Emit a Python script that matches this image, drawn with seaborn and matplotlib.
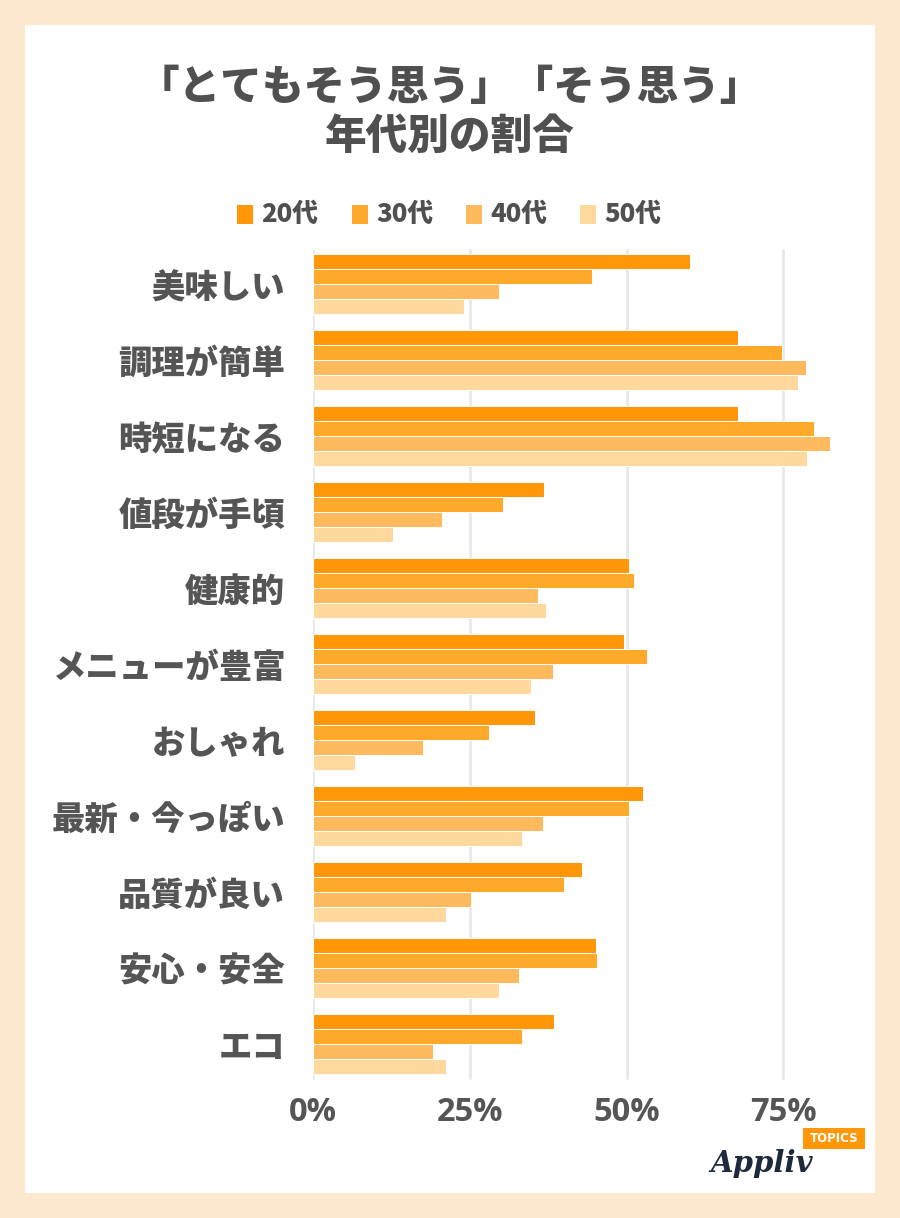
import numpy as np
import pandas as pd
import matplotlib
matplotlib.use("Agg")
import matplotlib.pyplot as plt
from matplotlib.patches import Rectangle
import seaborn as sns

categories = ["美味しい", "調理が簡単", "時短になる", "値段が手頃", "健康的", "メニューが豊富",
              "おしゃれ", "最新・今っぽい", "品質が良い", "安心・安全", "エコ"]
ages = ["20代", "30代", "40代", "50代"]
v20 = [60.1, 67.7, 67.7, 36.8, 50.4, 49.6, 35.4, 52.6, 42.9, 45.1, 38.4]
v30 = [44.4, 74.8, 79.9, 30.3, 51.1, 53.3, 28.1, 50.3, 40.0, 45.2, 33.3]
v40 = [29.7, 78.6, 82.5, 20.6, 35.9, 38.2, 17.6, 36.6, 25.2, 32.8, 19.1]
v50 = [24.1, 77.3, 78.7, 12.8, 37.1, 34.8, 6.7, 33.3, 21.2, 29.6, 21.2]
colors = ["#FF9708", "#FFA92B", "#FFBA5D", "#FFD89E"]
xticks = [0, 25, 50, 75]
xticklabels = ["0%", "25%", "50%", "75%"]

rows = []
for age, vals in zip(ages, [v20, v30, v40, v50]):
    for c, v in zip(categories, vals):
        rows.append({"category": c, "age": age, "value": v})
df = pd.DataFrame(rows)

sns.set_theme(style="white")
plt.rcParams['font.family'] = ['Noto Sans CJK JP', 'DejaVu Sans']

W, H = 900, 1218
fig = plt.figure(figsize=(W / 100, H / 100), dpi=100)
fig.patch.set_facecolor("#FDE9CF")
fig.patches.append(Rectangle((25 / W, 1 - 1193 / H), 850 / W, 1168 / H,
                             transform=fig.transFigure, facecolor="white",
                             edgecolor="none", zorder=-5))

ax = fig.add_axes([313 / W, 1 - 1082 / H, 552 / W, 836 / H])
ax.set_zorder(2)
ax.set_facecolor("none")
sns.barplot(data=df, y="category", x="value", hue="age", order=categories,
            hue_order=ages, palette=colors, orient="h", width=0.8,
            edgecolor="white", linewidth=0.7, saturation=1, ax=ax, legend=False, zorder=3)

ax.set_xlim(0, 88)
ax.set_ylim(10.5, -0.5)
ax.set_xticks(xticks)
ax.set_xticklabels(xticklabels)
for x in xticks:
    ax.axvline(x, color="#E8E8E8", lw=2, zorder=1, ymin=0.005, ymax=0.995)
for s in ax.spines.values():
    s.set_visible(False)
ax.set_xlabel("")
ax.set_ylabel("")
ax.tick_params(axis="x", length=0, pad=10, labelsize=23.5, labelcolor="#555555")
ax.tick_params(axis="y", length=0, pad=20, labelsize=24, labelcolor="#555555")
for lab in ax.get_xticklabels():
    lab.set_fontweight("bold")
    lab.set_family(["Open Sans", "DejaVu Sans"])
for lab in ax.get_yticklabels():
    lab.set_fontweight("heavy")

# Title
fig.text(0.5, 1 - 88 / H, "「とてもそう思う」「そう思う」", ha="center", va="center",
         fontsize=30, fontweight="heavy", color="#505050")
fig.text(0.5, 1 - 137 / H, "年代別の割合", ha="center", va="center",
         fontsize=30, fontweight="heavy", color="#505050")

# Legend
leg_x = [237, 352, 466, 580]
for x, age, col in zip(leg_x, ages, colors):
    fig.patches.append(Rectangle((x / W, 1 - 224 / H), 16 / W, 19 / H,
                                 transform=fig.transFigure, facecolor=col,
                                 edgecolor="none", zorder=3))
    fig.text((x + 24) / W, 1 - 214 / H, age, ha="left", va="center",
             fontsize=18.5, fontweight="heavy", color="#505050")

# Logo
fig.patches.append(Rectangle((803 / W, 1 - 1149 / H), 62 / W, 21 / H,
                             transform=fig.transFigure, facecolor="#FF9708",
                             edgecolor="none", zorder=5))
fig.text(834 / W, 1 - 1138.5 / H, "TOPICS", ha="center", va="center", fontsize=8.5,
         fontweight="bold", color="white", family=["DejaVu Sans"], zorder=6)
fig.text(762 / W, 1 - 1164 / H, "Appliv", ha="center", va="center", fontsize=21,
         fontstyle="italic", fontweight="bold", color="#1E2A3C",
         family=["DejaVu Serif"], zorder=6)

fig.savefig("out.png", dpi=100, facecolor=fig.get_facecolor())
